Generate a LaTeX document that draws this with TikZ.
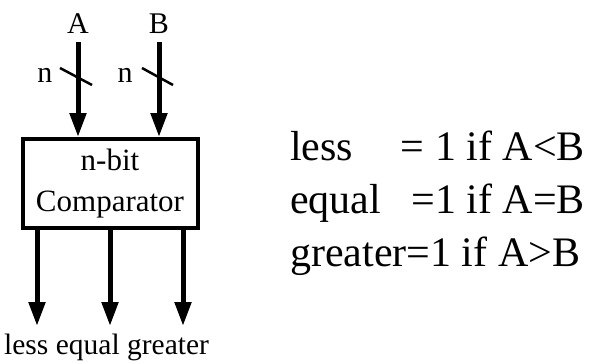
\documentclass[tikz,border=0pt]{standalone}
\usepackage{fontspec}
\setmainfont{Liberation Serif}
\usetikzlibrary{arrows.meta}
\begin{document}
\begin{tikzpicture}[x=1pt,y=-1pt,
  sig/.style={line width=5pt,-{Triangle[length=24pt,width=16pt]}},
  lbl/.style={font=\fontsize{30}{30}\selectfont,inner sep=0pt,anchor=base},
  rtxt/.style={font=\fontsize{42}{42}\selectfont,inner sep=0pt},
  slash/.style={line width=2.5pt}]
\useasboundingbox (0,0) rectangle (590,364);
% box
\node[draw,line width=3.5pt,minimum width=175pt,minimum height=89pt,inner sep=0pt] (cmp) at (110.5,183.5) {};
\node[lbl,font=\fontsize{31}{31}\selectfont] (t1) at (110,170) {n-bit};
\node[lbl,font=\fontsize{31}{31}\selectfont] (t2) at (110,211) {Comparator};
% inputs
\node[lbl] (A) at (78,33) {A};
\node[lbl] (B) at (159,33) {B};
\coordinate (Ast) at (78,42);
\coordinate (Bst) at (159,42);
\coordinate (Ain) at (78,137);
\coordinate (Bin) at (159,137);
\draw[sig] (Ast) -- (Ain);
\draw[sig] (Bst) -- (Bin);
\coordinate (sa1) at (60,68); \coordinate (sa2) at (92,85);
\coordinate (sb1) at (142,68); \coordinate (sb2) at (173,85);
\draw[slash] (sa1) -- (sa2);
\draw[slash] (sb1) -- (sb2);
\node[lbl] (nA) at (45,82) {n};
\node[lbl] (nB) at (125,82) {n};
% outputs
\node[lbl,anchor=base west,font=\fontsize{29.5}{29.5}\selectfont] (outs) at (4,354) {less equal greater};
\coordinate (o1) at (37,228); \coordinate (o2) at (110,228); \coordinate (o3) at (183,228);
\coordinate (e1) at (37,326); \coordinate (e2) at (110,326); \coordinate (e3) at (183,326);
\draw[sig] (o1) -- (e1);
\draw[sig] (o2) -- (e2);
\draw[sig] (o3) -- (e3);
% right text
\node[rtxt,anchor=base west] (r1a) at (290,160) {less};
\node[rtxt,anchor=base east] (r1b) at (585,160) {= 1 if A<B};
\node[rtxt,anchor=base west] (r2a) at (290,213) {equal};
\node[rtxt,anchor=base east] (r2b) at (585,213) {=1 if A=B};
\node[rtxt,anchor=base west] (r3) at (290,266) {greater=1 if A>B};
\end{tikzpicture}
\end{document}
